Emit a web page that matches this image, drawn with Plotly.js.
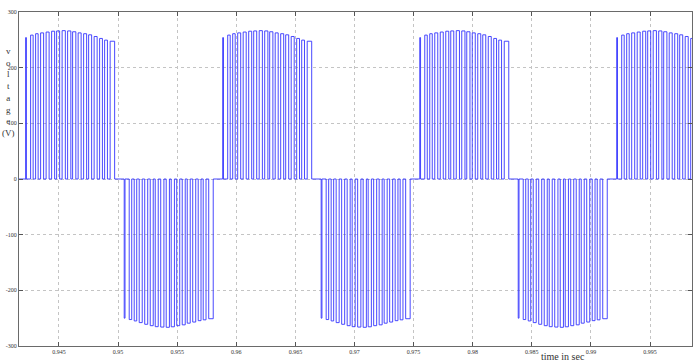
<!DOCTYPE html>
<html>
<head>
<meta charset="utf-8">
<script src="https://cdn.plot.ly/plotly-3.0.1.min.js"></script>
<style>html,body{margin:0;padding:0;background:#fff;}#chart{width:700px;height:361px;}</style>
</head>
<body>
<div id="chart"></div>
<script>
// Start times (s) of each half-cycle pulse group
const posGroupStarts = [0.94218, 0.95885, 0.97552, 0.99218];
const negGroupStarts = [0.95052, 0.96718, 0.98385];
// Pulse rising edges within a group (ms after group start) and pulse widths (ms)
const pulseRiseMs  = [0, 0.423, 0.846, 1.269, 1.734, 2.200, 2.623, 3.088, 3.553, 3.976, 4.442, 4.907, 5.330, 5.795, 6.260, 6.683, 7.149];
const pulseWidthMs = [0.068, 0.212, 0.212, 0.254, 0.254, 0.254, 0.254, 0.271, 0.271, 0.271, 0.254, 0.254, 0.254, 0.254, 0.237, 0.237, 0.381];
// Pulse heights (V) for positive and negative half-cycles
const posPeaks = [254, 258.5, 261, 262.5, 264, 265.5, 266, 266.5, 266, 264.5, 262.5, 261, 259, 256, 252.5, 249.5, 247.5];
const negPeaks = [-250, -252.5, -255, -258, -261, -263.5, -265.3, -266, -266.4, -265.5, -263.5, -262, -259, -257, -254.5, -253, -251];
// Axes
const xRange = [0.94162, 0.99855];
const xTickVals = [0.945, 0.95, 0.955, 0.96, 0.965, 0.97, 0.975, 0.98, 0.985, 0.99, 0.995];
const xTickText = ['0.945', '0.95', '0.955', '0.96', '0.965', '0.97', '0.975', '0.98', '0.985', '0.99', '0.995'];
const yTickVals = [-300, -200, -100, 0, 100, 200, 300];
const yTickText = ['-300', '-200', '-100', '0', '100', '200', '300'];

// Build the step waveform from the groups
const groups = [];
posGroupStarts.forEach(s => groups.push({start: s, peaks: posPeaks}));
negGroupStarts.forEach(s => groups.push({start: s, peaks: negPeaks}));
groups.sort((a, b) => a.start - b.start);

const xs = [xRange[0]], ys = [0];
groups.forEach(g => {
  pulseRiseMs.forEach((r, i) => {
    const tr = g.start + r / 1000;
    const tf = tr + pulseWidthMs[i] / 1000;
    const h = g.peaks[i];
    xs.push(tr, tr, tf, tf);
    ys.push(0, h, h, 0);
  });
});
xs.push(xRange[1]); ys.push(0);

const trace = {
  x: xs, y: ys, type: 'scatter', mode: 'lines',
  line: {color: '#3434ff', width: 0.9},
  hoverinfo: 'skip'
};

const axisCommon = {
  showgrid: true, gridcolor: '#c4c4c4', griddash: 'dot', gridwidth: 1,
  zeroline: false, showline: true, linecolor: '#6a6a6a', linewidth: 1, mirror: 'ticks',
  ticks: 'inside', ticklen: 4, tickcolor: '#555',
  tickfont: {family: 'Liberation Serif', size: 6, color: '#333'}
};

const layout = {
  width: 700, height: 361,
  margin: {l: 19, r: 8, t: 12, b: 15},
  paper_bgcolor: '#ffffff', plot_bgcolor: '#ffffff',
  showlegend: false,
  xaxis: Object.assign({range: xRange, tickmode: 'array', tickvals: xTickVals, ticktext: xTickText}, axisCommon),
  yaxis: Object.assign({range: [-300, 300], tickmode: 'array', tickvals: yTickVals, ticktext: yTickText}, axisCommon),
  annotations: [
    {text: 'v<br>o<br>l<br>t<br>a<br>g<br>e<br>(V)', xref: 'paper', yref: 'paper',
     x: -0.0275, y: 0.76, xanchor: 'left', yanchor: 'middle', showarrow: false,
     font: {family: 'Liberation Serif', size: 9, color: '#333'}},
    {text: 'time in sec', xref: 'paper', yref: 'paper',
     x: 0.809, y: -0.031, xanchor: 'center', yanchor: 'middle', showarrow: false,
     font: {family: 'Liberation Serif', size: 10, color: '#333'}}
  ]
};

Plotly.newPlot('chart', [trace], layout, {displayModeBar: false, staticPlot: true});
</script>
</body>
</html>
